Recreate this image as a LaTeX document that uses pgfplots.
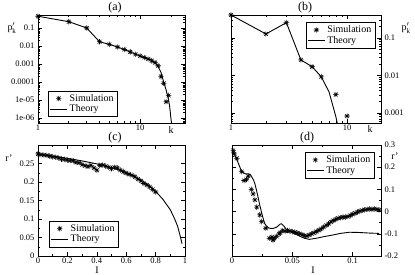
\documentclass[border=0pt]{standalone}
\usepackage{fontspec}
\setmainfont{Liberation Serif}
\usepackage{pgfplots}
\pgfplotsset{compat=1.18}

\pgfdeclareplotmark{ast8}{%
  \pgfpathmoveto{\pgfqpoint{-\pgfplotmarksize}{0pt}}%
  \pgfpathlineto{\pgfqpoint{\pgfplotmarksize}{0pt}}%
  \pgfpathmoveto{\pgfqpoint{0pt}{-\pgfplotmarksize}}%
  \pgfpathlineto{\pgfqpoint{0pt}{\pgfplotmarksize}}%
  \pgfpathmoveto{\pgfqpoint{-0.707\pgfplotmarksize}{-0.707\pgfplotmarksize}}%
  \pgfpathlineto{\pgfqpoint{0.707\pgfplotmarksize}{0.707\pgfplotmarksize}}%
  \pgfpathmoveto{\pgfqpoint{-0.707\pgfplotmarksize}{0.707\pgfplotmarksize}}%
  \pgfpathlineto{\pgfqpoint{0.707\pgfplotmarksize}{-0.707\pgfplotmarksize}}%
  \pgfusepathqstroke}

\pgfplotsset{
  every axis/.append style={scale only axis, line width=0.5pt,
    tick align=inside, major tick length=4pt, minor tick length=2pt,
    tick style={line width=0.5pt,black},
    ticklabel style={font=\fontsize{8.5}{9}\selectfont},
    xticklabel style={yshift=1.5pt},
    clip mode=individual,
    legend style={font=\fontsize{10}{11}\selectfont, draw=black, line width=0.5pt,
      inner sep=1.5pt, row sep=-2pt, cells={anchor=west}},
    legend cell align=left},
  sim/.style={only marks, mark=ast8, mark size=2.7pt, mark options={line width=0.55pt,black}},
  theo/.style={no marks, line width=0.9pt, black},
}

\begin{document}
\begin{tikzpicture}
\path[use as bounding box] (0,0) rectangle (415pt,274pt);

% (a)
\begin{axis}[at={(38pt,151pt)}, anchor=south west, width=147pt, height=108pt,
  xmode=log, ymode=log, xmin=1, xmax=27.5, ymin=5.27e-7, ymax=0.527,
  xtick={1,10}, xticklabels={1,10},
  minor xtick={2,3,4,5,6,7,8,9,20},
  ytick={1e-6,1e-5,1e-4,1e-3,1e-2,1e-1},
  yticklabels={1e-06,1e-05,0.0001,0.001,0.01,0.1},
  minor ytick={2e-7,3e-7,4e-7,5e-7,6e-7,7e-7,8e-7,9e-7,2e-6,3e-6,4e-6,5e-6,6e-6,7e-6,8e-6,9e-6,2e-5,3e-5,4e-5,5e-5,6e-5,7e-5,8e-5,9e-5,2e-4,3e-4,4e-4,5e-4,6e-4,7e-4,8e-4,9e-4,2e-3,3e-3,4e-3,5e-3,6e-3,7e-3,8e-3,9e-3,2e-2,3e-2,4e-2,5e-2,6e-2,7e-2,8e-2,9e-2,2e-1,3e-1,4e-1},
  legend style={at={(0.068,0.056)}, anchor=south west}]
\addplot[sim] table {
x y
1 0.45
2 0.224
3 0.1
4 0.0173
5 0.0123
6 0.0088
7 0.0064
8 0.0047
9 0.0035
10 0.0028
11 0.0023
12 0.0019
13 0.0015
14 0.0012
15 0.0008
16 0.0002
17 0.000085
18 0.000008
19 0.000018
};
\addlegendentry{Simulation}
\addplot[theo] table {
x y
1 0.45
2 0.224
3 0.1
4 0.0173
5 0.0123
6 0.0088
7 0.0064
8 0.0047
9 0.0035
10 0.0028
11 0.0023
12 0.0019
13 0.0016
14 0.0012
14.5 0.001
15 0.0007
16 0.00035
17 0.0001
18 0.000035
19 0.00001
19.5 0.000004
20 0.000001
20.4 0.0000004
};
\addlegendentry{Theory}
\end{axis}

% (b)
\begin{axis}[at={(231pt,151pt)}, anchor=south west, width=150pt, height=108pt,
  xmode=log, ymode=log, xmin=1, xmax=19.6, ymin=5.4e-4, ymax=0.41,
  xtick={1,10}, xticklabels={1,10},
  minor xtick={2,3,4,5,6,7,8,9},
  ytick={1e-3,1e-2,1e-1}, yticklabels={0.001,0.01,0.1},
  minor ytick={6e-4,7e-4,8e-4,9e-4,2e-3,3e-3,4e-3,5e-3,6e-3,7e-3,8e-3,9e-3,2e-2,3e-2,4e-2,5e-2,6e-2,7e-2,8e-2,9e-2,2e-1,3e-1,4e-1},
  yticklabel pos=right,
  legend style={at={(0.96,0.935)}, anchor=north east}]
\addplot[sim] table {
x y
1 0.41
2 0.128
3 0.256
4 0.026
5 0.0171
6 0.0092
8 0.0031
10 0.00083
};
\addlegendentry{Simulation}
\addplot[theo] table {
x y
1 0.41
2 0.128
3 0.256
4 0.026
5 0.0171
6 0.0092
7 0.0036
8 0.0008
8.4 0.0004
};
\addlegendentry{Theory}
\end{axis}

% (c)
\begin{axis}[at={(38pt,18pt)}, anchor=south west, width=147pt, height=111pt,
  xmin=0, xmax=1, ymin=0, ymax=0.3,
  xtick={0,0.2,0.4,0.6,0.8,1}, xticklabels={0,0.2,0.4,0.6,0.8,1},
  minor x tick num=1,
  ytick={0,0.05,0.1,0.15,0.2,0.25}, yticklabels={0,0.05,0.1,0.15,0.2,0.25},
  minor y tick num=1,
  legend style={at={(0.075,0.081)}, anchor=south west}]
\addplot[sim] table {
x y
0 0.276
0.02 0.274
0.04 0.273
0.06 0.272
0.08 0.270
0.10 0.268
0.12 0.267
0.14 0.265
0.16 0.262
0.18 0.261
0.20 0.259
0.22 0.258
0.24 0.257
0.26 0.253
0.28 0.252
0.30 0.247
0.32 0.244
0.34 0.242
0.36 0.245
0.38 0.238
0.40 0.232
0.42 0.245
0.44 0.246
0.46 0.243
0.48 0.240
0.50 0.236
0.52 0.240
0.54 0.238
0.56 0.232
0.58 0.228
0.60 0.224
0.62 0.221
0.64 0.218
0.66 0.214
0.68 0.208
0.70 0.203
0.72 0.196
0.74 0.192
0.76 0.187
0.78 0.180
0.80 0.173
};
\addlegendentry{Simulation}
\addplot[theo] table {
x y
0 0.275
0.1 0.270
0.2 0.264
0.3 0.257
0.4 0.249
0.5 0.239
0.6 0.226
0.7 0.206
0.75 0.192
0.8 0.175
0.85 0.153
0.9 0.125
0.93 0.100
0.95 0.080
0.97 0.050
0.98 0.033
};
\addlegendentry{Theory}
\end{axis}

% (d)
\begin{axis}[at={(232pt,18pt)}, anchor=south west, width=149pt, height=111pt,
  xmin=0, xmax=0.1235, ymin=-0.2, ymax=0.3,
  xtick={0,0.05,0.1}, xticklabels={0,0.05,0.1},
  minor x tick num=1,
  ytick={-0.2,-0.1,0,0.1,0.2,0.3}, yticklabels={-0.2,-0.1,0,0.1,0.2,0.3},
  minor y tick num=1,
  yticklabel pos=right,
  legend style={at={(0.953,0.937)}, anchor=north east}]
\addplot[sim] table {
x y
0.001 0.275
0.002 0.26
0.004 0.24
0.008 0.18
0.010 0.14
0.012 0.145
0.0135 0.16
0.016 0.10
0.0175 0.08
0.019 0.053
0.0205 0.02
0.023 -0.015
0.0245 -0.045
0.028 -0.075
0.031 -0.12
0.033 -0.115
0.034 -0.128
0.035 -0.12
0.037 -0.112
0.039 -0.10
0.040 -0.095
0.042 -0.085
0.044 -0.088
0.046 -0.085
0.048 -0.088
0.050 -0.09
0.052 -0.093
0.054 -0.096
0.056 -0.10
0.058 -0.104
0.060 -0.108
0.062 -0.11
0.064 -0.105
0.066 -0.10
0.068 -0.095
0.070 -0.09
0.072 -0.084
0.074 -0.077
0.076 -0.07
0.078 -0.062
0.080 -0.055
0.082 -0.047
0.084 -0.04
0.086 -0.035
0.088 -0.03
0.090 -0.027
0.092 -0.025
0.094 -0.025
0.096 -0.022
0.098 -0.018
0.100 -0.012
0.102 -0.007
0.104 -0.002
0.106 0.002
0.108 0.006
0.110 0.008
0.112 0.010
0.114 0.012
0.116 0.010
0.118 0.012
0.120 0.010
0.122 0.008
};
\addlegendentry{Simulation}
\addplot[theo] table {
x y
0 0.28
0.001 0.27
0.004 0.235
0.008 0.18
0.011 0.17
0.013 0.17
0.015 0.168
0.016 0.16
0.018 0.14
0.019 0.125
0.021 0.08
0.023 0.03
0.025 -0.015
0.027 -0.053
0.029 -0.068
0.031 -0.075
0.034 -0.076
0.037 -0.07
0.040 -0.056
0.041 -0.055
0.043 -0.065
0.045 -0.08
0.048 -0.09
0.052 -0.098
0.056 -0.11
0.060 -0.12
0.064 -0.125
0.070 -0.12
0.076 -0.113
0.084 -0.105
0.090 -0.098
0.0975 -0.093
0.105 -0.094
0.115 -0.097
0.122 -0.098
};
\addlegendentry{Theory}
\end{axis}

% titles and labels
\node[font=\fontsize{12}{13}\selectfont] at (115pt,266pt) {(a)};
\node[font=\fontsize{12}{13}\selectfont] at (305pt,266pt) {(b)};
\node[font=\fontsize{12}{13}\selectfont] at (115pt,136pt) {(c)};
\node[font=\fontsize{12}{13}\selectfont] at (307pt,136pt) {(d)};
\node[font=\fontsize{10}{11}\selectfont] at (12pt,246pt) {p$^{\prime}_{\mbox{\scriptsize k}}$};
\node[font=\fontsize{10}{11}\selectfont] at (406pt,246pt) {p$^{\prime}_{\mbox{\scriptsize k}}$};
\node[font=\fontsize{10}{11}\selectfont] at (171pt,144pt) {k};
\node[font=\fontsize{10}{11}\selectfont] at (370pt,145pt) {k};
\node[font=\fontsize{10}{11}\selectfont] at (9pt,116pt) {r'};
\node[font=\fontsize{10}{11}\selectfont] at (395pt,118pt) {r'};
\node[font=\fontsize{10}{11}\selectfont, inner sep=0pt, anchor=south] at (97pt,0.5pt) {I};
\node[font=\fontsize{10}{11}\selectfont, inner sep=0pt, anchor=south] at (313pt,0.5pt) {I};
\end{tikzpicture}
\end{document}
